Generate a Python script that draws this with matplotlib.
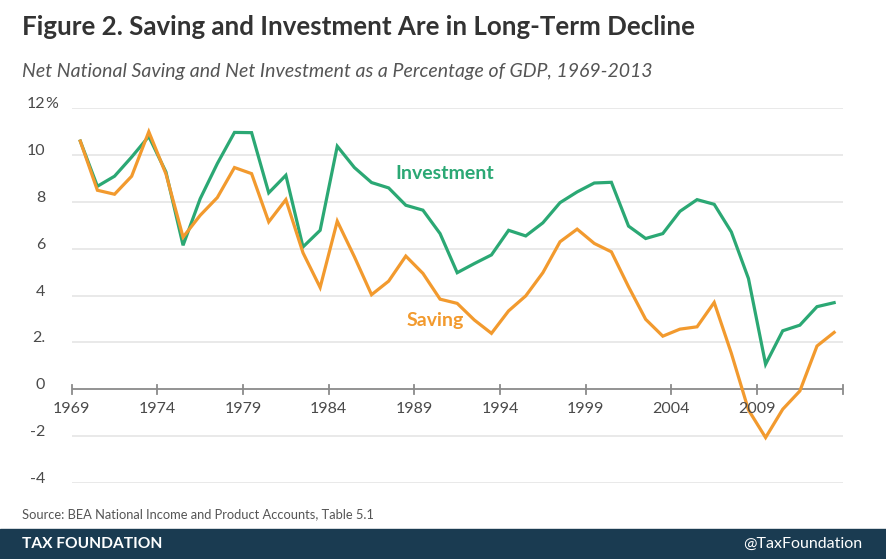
import matplotlib
matplotlib.use("Agg")
import matplotlib.pyplot as plt
import numpy as np

years = np.arange(1969, 2014)
investment = [10.6, 8.67, 9.1, 9.92, 10.8, 9.28, 6.15, 8.14, 9.64, 10.97,
              10.96, 8.39, 9.14, 6.08, 6.79, 10.38, 9.47, 8.83, 8.6, 7.86,
              7.65, 6.65, 4.98, 5.37, 5.74, 6.79, 6.55, 7.11, 7.97, 8.43,
              8.81, 8.84, 6.97, 6.44, 6.65, 7.6, 8.1, 7.9, 6.72, 4.73,
              1.07, 2.5, 2.74, 3.53, 3.7]
saving = [10.6, 8.5, 8.33, 9.1, 11.0, 9.2, 6.5, 7.43, 8.19, 9.47,
          9.21, 7.15, 8.1, 5.83, 4.35, 7.18, 5.66, 4.04, 4.62, 5.69,
          4.95, 3.85, 3.67, 2.96, 2.39, 3.35, 3.99, 4.98, 6.3, 6.84,
          6.23, 5.87, 4.38, 2.99, 2.27, 2.57, 2.67, 3.71, 1.54, -0.88,
          -2.06, -0.85, -0.07, 1.85, 2.43]
xticks = [1969, 1974, 1979, 1984, 1989, 1994, 1999, 2004, 2009]
yticks = [-4, -2, 0, 2, 4, 6, 8, 10, 12]
ylabels = ["-4", "-2", "0", "2.", "4", "6", "8", "10", "12"]

green = "#2ba874"
orange = "#f29a2e"
gray_text = "#4a4a4a"

plt.rcParams['font.family'] = ['Lato', 'DejaVu Sans']

fig = plt.figure(figsize=(8.86, 5.59), dpi=100)
ax = fig.add_axes([71.7 / 886, 76 / 559, 771 / 886, 374.7 / 559])

ax.plot(years + 0.5, investment, color=green, lw=2.3, solid_joinstyle='miter', clip_on=False, zorder=3)
ax.plot(years + 0.5, saving, color=orange, lw=2.3, solid_joinstyle='miter', clip_on=False, zorder=3)

ax.set_xlim(1969, 2014)
ax.set_ylim(-4, 12)
for s in ax.spines.values():
    s.set_visible(False)

# grid lines
for v in yticks:
    if v != 0:
        ax.axhline(v, color="#e3e3e3", lw=1.1, zorder=1)
ax.axhline(0, color="#8a8a8a", lw=1.3, zorder=2)

# x ticks drawn on the zero line
for x in xticks + [2014]:
    ax.plot([x, x], [-0.2, 0.2], color="#8a8a8a", lw=1.3, zorder=2, clip_on=False)
ax.set_xticks([])
for x in xticks:
    ax.text(x, -0.55, str(x), ha='center', va='top', fontsize=11.5, color=gray_text)

ax.set_yticks(yticks)
ax.set_yticklabels(ylabels)
ax.tick_params(axis='y', length=0, pad=19, labelsize=11.5, labelcolor=gray_text)
for lab in ax.get_yticklabels():
    lab.set_verticalalignment('baseline')
fig.text(45.2 / 886, 1 - 107.5 / 559, "%", ha='left', va='baseline', fontsize=11.5, color=gray_text)

ax.text(1990.76, 9.22, "Investment", color=green, fontsize=14, fontweight='bold', ha='center', va='center')
ax.text(1990.2, 2.95, "Saving", color=orange, fontsize=14, fontweight='bold', ha='center', va='center')

fig.text(22 / 886, 1 - 27 / 559, "Figure 2. Saving and Investment Are in Long-Term Decline",
         fontsize=18.6, fontweight='bold', color="#333333", ha='left', va='center')
fig.text(22 / 886, 1 - 72 / 559, "Net National Saving and Net Investment as a Percentage of GDP, 1969-2013",
         fontsize=14, style='italic', color="#555555", ha='left', va='center')
fig.text(22 / 886, 1 - 514 / 559, "Source: BEA National Income and Product Accounts, Table 5.1",
         fontsize=9.3, color="#555555", ha='left', va='center')

band = plt.Rectangle((0, 0), 1, 30 / 559, transform=fig.transFigure, color="#1a3b51", zorder=0)
fig.patches.append(band)
fig.text(22 / 886, 15 / 559, "TAX FOUNDATION", fontsize=11.2, fontweight='bold', color="white", ha='left', va='center')
fig.text(862 / 886, 15 / 559, "@TaxFoundation", fontsize=11.5, color="white", ha='right', va='center')

fig.savefig("out.png", dpi=100)
